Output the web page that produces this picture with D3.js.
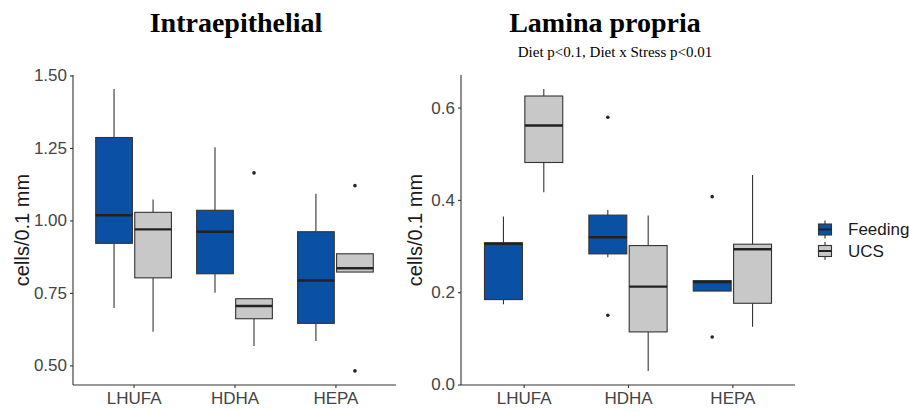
<!DOCTYPE html>
<html>
<head>
<meta charset="utf-8">
<script src="https://cdn.jsdelivr.net/npm/d3@7"></script>
<style>
  body { margin: 0; background: #fff; }
  svg text { font-family: "Liberation Sans", Arial, sans-serif; }
</style>
</head>
<body>
<div id="chart"></div>
<script>
const width = 909, height = 412;

const diets = ['LHUFA', 'HDHA', 'HEPA'];
const groups = ['Feeding', 'UCS'];
const groupFill = {Feeding: '#0a50a4', UCS: '#c8c8c8'};

// boxplot stats: [low whisker, q1, median, q3, high whisker]
// one row per diet, in order Feeding, UCS
const intraStats = [
  [[0.698, 0.921, 1.018, 1.286, 1.453], [0.616, 0.802, 0.969, 1.028, 1.072]],
  [[0.751, 0.816, 0.961, 1.035, 1.252], [0.567, 0.661, 0.705, 0.730, 0.730]],
  [[0.584, 0.645, 0.793, 0.961, 1.092], [0.822, 0.822, 0.835, 0.885, 0.885]],
];
const intraOutliers = [
  [[], []],
  [[], [1.164]],
  [[], [1.120, 0.481]],
];
const laminaStats = [
  [[0.174, 0.184, 0.305, 0.307, 0.364], [0.4165, 0.481, 0.561, 0.625, 0.640]],
  [[0.2755, 0.283, 0.319, 0.367, 0.378], [0.0295, 0.114, 0.212, 0.301, 0.366]],
  [[0.2025, 0.2025, 0.222, 0.225, 0.225], [0.125, 0.176, 0.293, 0.304, 0.454]],
];
const laminaOutliers = [
  [[], []],
  [[0.579, 0.150], []],
  [[0.407, 0.103], []],
];
const intraTicks = [0.50, 0.75, 1.00, 1.25, 1.50];
const laminaTicks = [0.0, 0.2, 0.4, 0.6];

const svg = d3.select('#chart').append('svg')
  .attr('width', width).attr('height', height);

const drawPanel = (opts) => {
  const {x0, x1, y0, y1, stats, outliers, ticks, fmt, titleX} = opts;

  // ggplot-style 5% expansion of the data range
  const all = stats.flat(2).concat(outliers.flat(2));
  const lo = d3.min(all), hi = d3.max(all), pad = (hi - lo) * 0.05;
  const y = d3.scaleLinear().domain([lo - pad, hi + pad]).range([y1, y0]);
  const x = d3.scalePoint().domain(diets).range([x0, x1]).padding(0.6);
  const step = x.step();
  const dodge = d3.scaleBand().domain(groups)
    .range([-0.375 * step, 0.375 * step]).paddingInner(0.06);
  const bw = dodge.bandwidth();

  const g = svg.append('g');

  // boxes
  diets.forEach((d, i) => {
    groups.forEach((grp, j) => {
      const [wl, q1, md, q3, wh] = stats[i][j];
      const bx = x(d) + dodge(grp);
      const cx = bx + bw / 2;
      g.append('line')
        .attr('x1', cx).attr('x2', cx)
        .attr('y1', y(wh)).attr('y2', y(q3))
        .attr('stroke', '#333').attr('stroke-width', 1.1);
      g.append('line')
        .attr('x1', cx).attr('x2', cx)
        .attr('y1', y(q1)).attr('y2', y(wl))
        .attr('stroke', '#333').attr('stroke-width', 1.1);
      g.append('rect')
        .attr('x', bx).attr('y', y(q3))
        .attr('width', bw).attr('height', Math.max(0.5, y(q1) - y(q3)))
        .attr('fill', groupFill[grp])
        .attr('stroke', '#333').attr('stroke-width', 1.1);
      g.append('line')
        .attr('x1', bx).attr('x2', bx + bw)
        .attr('y1', y(md)).attr('y2', y(md))
        .attr('stroke', '#222').attr('stroke-width', 2.4);
      outliers[i][j].forEach(v => {
        g.append('circle')
          .attr('cx', cx).attr('cy', y(v)).attr('r', 1.8)
          .attr('fill', '#222');
      });
    });
  });

  // axes
  const yAxis = g.append('g').attr('transform', `translate(${x0},0)`)
    .call(d3.axisLeft(y).tickValues(ticks).tickFormat(fmt).tickSize(3).tickPadding(3));
  const xAxis = g.append('g').attr('transform', `translate(0,${y1})`)
    .call(d3.axisBottom(x).tickSize(3).tickPadding(4));
  [yAxis, xAxis].forEach(ax => {
    ax.select('.domain').attr('stroke', '#333').attr('stroke-width', 1.1);
    ax.selectAll('.tick line').attr('stroke', '#333').attr('stroke-width', 1.1);
    ax.selectAll('.tick text').attr('fill', '#444').style('font-size', '17px')
      .style('font-family', '"Liberation Sans", Arial, sans-serif');
  });
  // domain lines without the end ticks
  yAxis.select('.domain').attr('d', `M0,${y0}V${y1}`);
  xAxis.select('.domain').attr('d', `M${x0},0H${x1}`);

  g.append('text')
    .attr('transform', `translate(${titleX},${(y0 + y1) / 2}) rotate(-90)`)
    .attr('text-anchor', 'middle')
    .attr('fill', '#1a1a1a')
    .style('font-size', '20px')
    .text('cells/0.1 mm');
};

drawPanel({
  x0: 73, x1: 396, y0: 75, y1: 385,
  stats: intraStats, outliers: intraOutliers,
  ticks: intraTicks, fmt: d3.format('.2f'), titleX: 29,
});
drawPanel({
  x0: 461, x1: 795, y0: 75, y1: 385,
  stats: laminaStats, outliers: laminaOutliers,
  ticks: laminaTicks, fmt: d3.format('.1f'), titleX: 422,
});

// titles
const serif = '"Liberation Serif", "Times New Roman", serif';
svg.append('text').attr('x', 236).attr('y', 32)
  .attr('text-anchor', 'middle').style('font-family', serif)
  .style('font-weight', 'bold').style('font-size', '28px')
  .text('Intraepithelial');
svg.append('text').attr('x', 605).attr('y', 32)
  .attr('text-anchor', 'middle').style('font-family', serif)
  .style('font-weight', 'bold').style('font-size', '28px')
  .text('Lamina propria');
svg.append('text').attr('x', 615).attr('y', 57)
  .attr('text-anchor', 'middle').style('font-family', serif)
  .style('font-size', '15px')
  .text('Diet p<0.1, Diet x Stress p<0.01');

// legend
const legend = svg.append('g');
groups.forEach((grp, i) => {
  const cy = 229.5 + i * 21.5;
  const lg = legend.append('g');
  lg.append('line').attr('x1', 825).attr('x2', 825)
    .attr('y1', cy - 9).attr('y2', cy + 9)
    .attr('stroke', '#333').attr('stroke-width', 1.1);
  lg.append('rect').attr('x', 818.5).attr('y', cy - 5.5)
    .attr('width', 13).attr('height', 11)
    .attr('fill', groupFill[grp]).attr('stroke', '#333').attr('stroke-width', 1.1);
  lg.append('line').attr('x1', 818.5).attr('x2', 831.5)
    .attr('y1', cy).attr('y2', cy)
    .attr('stroke', '#222').attr('stroke-width', 2);
  lg.append('text').attr('x', 848).attr('y', cy).attr('dy', '0.35em')
    .attr('fill', '#1a1a1a').style('font-size', '17px')
    .text(grp);
});
</script>
</body>
</html>
